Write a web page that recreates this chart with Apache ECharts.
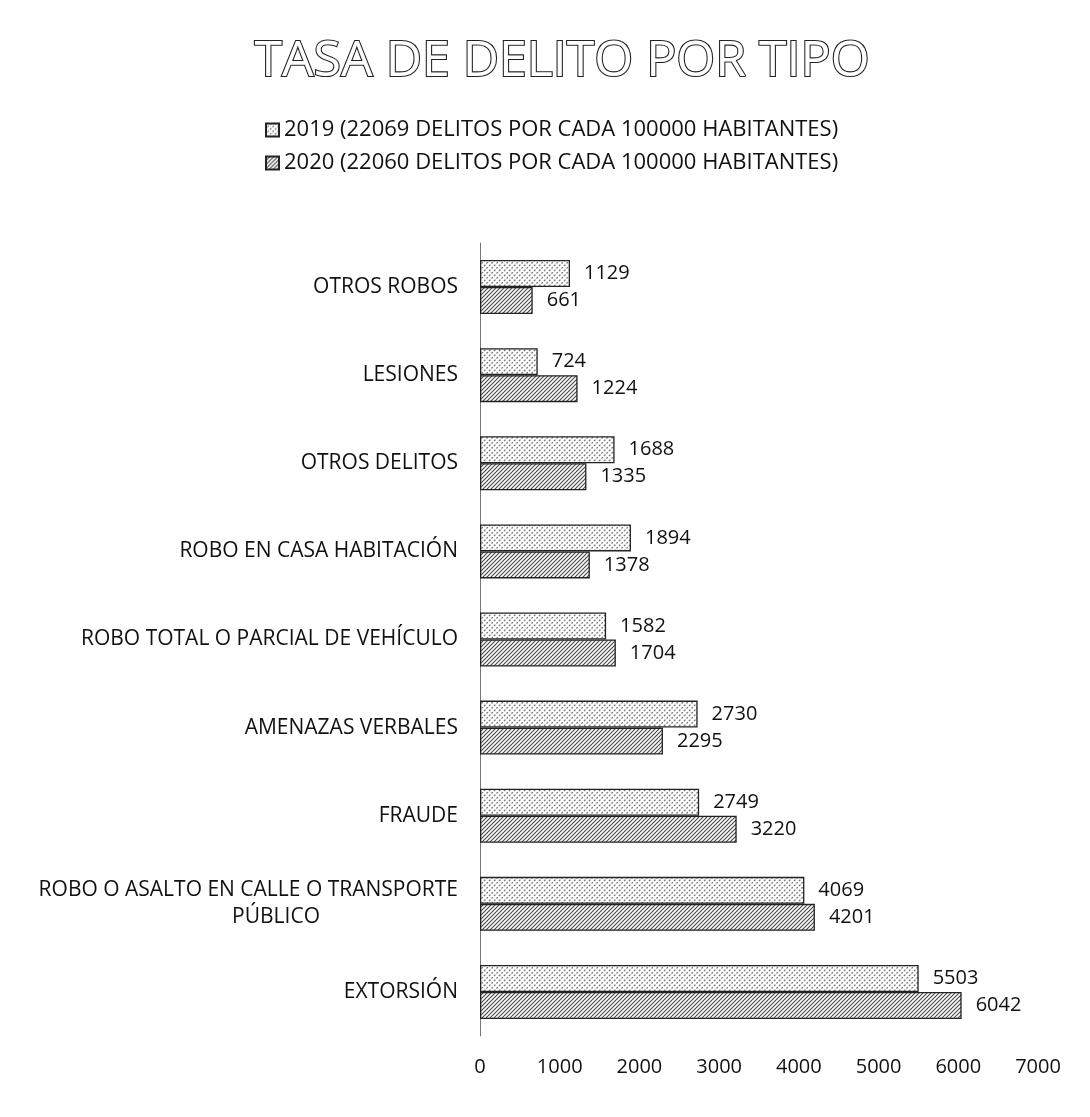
<!DOCTYPE html>
<html>
<head>
<meta charset="utf-8">
<script src="https://cdn.jsdelivr.net/npm/echarts@6/dist/echarts.min.js"></script>
<style>
  html, body { margin: 0; padding: 0; background: #fff; }
  #chart { width: 1090px; height: 1117px; }
</style>
</head>
<body>
<div id="chart"></div>
<script>
var categories = [
  "OTROS ROBOS",
  "LESIONES",
  "OTROS DELITOS",
  "ROBO EN CASA HABITACIÓN",
  "ROBO TOTAL O PARCIAL DE VEHÍCULO",
  "AMENAZAS VERBALES",
  "FRAUDE",
  "ROBO O ASALTO EN CALLE O TRANSPORTE PÚBLICO",
  "EXTORSIÓN"
];
var values2019 = [1129, 724, 1688, 1894, 1582, 2730, 2749, 4069, 5503];
var values2020 = [661, 1224, 1335, 1378, 1704, 2295, 3220, 4201, 6042];
var seriesNames = [
  "2019 (22069 DELITOS POR CADA 100000 HABITANTES)",
  "2020 (22060 DELITOS POR CADA 100000 HABITANTES)"
];

var font = "'Open Sans', 'Noto Sans', sans-serif";
var fs = 20;
var catFs = 21;

// hatch fills, drawn once on small canvases
function hatch(lineColor, gap, width, dotted) {
  var c = document.createElement("canvas");
  c.width = gap; c.height = gap;
  var ctx = c.getContext("2d");
  ctx.fillStyle = "#fff";
  ctx.fillRect(0, 0, gap, gap);
  ctx.strokeStyle = lineColor;
  ctx.lineWidth = width;
  if (dotted) ctx.setLineDash([2, 1.5]);
  ctx.beginPath();
  ctx.moveTo(-1, gap + 1); ctx.lineTo(gap + 1, -1);
  ctx.moveTo(-1, 1); ctx.lineTo(1, -1);
  ctx.moveTo(gap - 1, gap + 1); ctx.lineTo(gap + 1, gap - 1);
  ctx.stroke();
  return c;
}
var fill2019 = hatch("#777", 5, 1.3, true);
var fill2020 = hatch("#444", 4, 1.1, false);

var chart = echarts.init(document.getElementById("chart"));

function numLabel(p) { return String(p.value); }

var option = {
  backgroundColor: "#fff",
  title: {
    text: "TASA DE DELITO POR TIPO",
    left: 557,
    textAlign: "center",
    top: 32,
    textStyle: {
      fontFamily: font,
      fontSize: 50,
      fontWeight: "normal",
      color: "#fff",
      textBorderColor: "#222",
      textBorderWidth: 2.2
    }
  },
  legend: {
    orient: "vertical",
    left: 260,
    top: 114,
    itemGap: 11,
    itemWidth: 13,
    itemHeight: 13,
    icon: "rect",
    align: "left",
    textStyle: { fontFamily: font, fontSize: 22, color: "#111" }
  },
  grid: { left: 480, right: 52, top: 243, bottom: 81 },
  xAxis: {
    type: "value",
    min: 0,
    max: 7000,
    interval: 1000,
    splitLine: { show: false },
    axisLine: { show: false },
    axisTick: { show: false },
    axisLabel: {
      fontFamily: font, fontSize: fs, color: "#111", margin: 21,
      formatter: function (v) { return String(v); }
    }
  },
  yAxis: {
    type: "category",
    data: categories,
    inverse: true,
    axisLine: { show: true, lineStyle: { color: "#777", width: 1 } },
    axisTick: { show: false },
    axisLabel: {
      fontFamily: font,
      fontSize: catFs,
      color: "#111",
      margin: 22,
      lineHeight: 27,
      formatter: function (v) {
        if (v.indexOf("TRANSPORTE") > 0) {
          return "{a|ROBO O ASALTO EN CALLE O TRANSPORTE}\n{b|PÚBLICO}";
        }
        return v;
      },
      rich: {
        a: { fontFamily: font, fontSize: catFs, color: "#111", lineHeight: 27 },
        b: { fontFamily: font, fontSize: catFs, color: "#111", lineHeight: 27, padding: [0, 138, 0, 0] }
      }
    }
  },
  series: [
    {
      name: seriesNames[0],
      type: "bar",
      data: values2019,
      barWidth: 27,
      barGap: "0%",
      itemStyle: {
        color: { image: fill2019, repeat: "repeat" },
        borderColor: "#222",
        borderWidth: 1.3
      },
      label: {
        show: true,
        position: "right",
        distance: 14,
        formatter: numLabel,
        fontFamily: font,
        fontSize: fs,
        color: "#111"
      }
    },
    {
      name: seriesNames[1],
      type: "bar",
      data: values2020,
      barWidth: 27,
      barGap: "0%",
      itemStyle: {
        color: { image: fill2020, repeat: "repeat" },
        borderColor: "#222",
        borderWidth: 1.3
      },
      label: {
        show: true,
        position: "right",
        distance: 14,
        formatter: numLabel,
        fontFamily: font,
        fontSize: fs,
        color: "#111"
      }
    }
  ]
};

chart.setOption(option);
</script>
</body>
</html>
